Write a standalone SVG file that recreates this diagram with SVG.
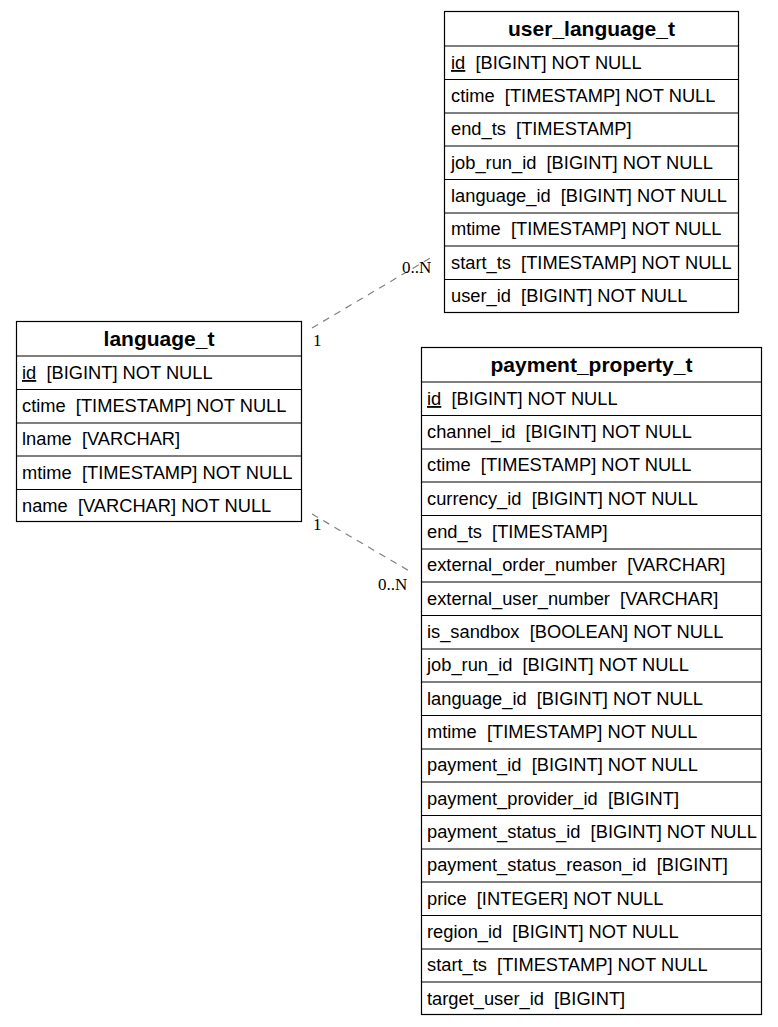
<svg xmlns="http://www.w3.org/2000/svg" width="778" height="1027" viewBox="0 0 778 1027">
<style>
.box{fill:#fff;stroke:#000;stroke-width:1.2}
.sep{stroke:#000;stroke-width:1.2}
.h{font-family:"Liberation Sans",Arial,sans-serif;font-size:21px;font-weight:bold;text-anchor:middle;fill:#000}
.r{font-family:"Liberation Sans",Arial,sans-serif;font-size:18.3px;fill:#000;white-space:pre}
.u{text-decoration:underline}
.c{stroke:#808080;stroke-width:1.2;stroke-dasharray:7,6;fill:none}
.l{font-family:"Liberation Serif","Times New Roman",serif;font-size:17px;fill:#000}
</style>
<rect width="778" height="1027" fill="#fff"/>
<g id="connectors">
<path class="c" d="M312,328 L432,257"/>
<path class="c" d="M312,514 L411,572"/>
<text class="l" x="313" y="346">1</text>
<text class="l" x="402" y="273">0..N</text>
<text class="l" x="313" y="530">1</text>
<text class="l" x="378" y="590">0..N</text>
</g>
<g id="user_language_t">
<rect class="box" x="444.5" y="11.5" width="294" height="301"/>
<line class="sep" x1="444.5" y1="46" x2="738.5" y2="46"/>
<line class="sep" x1="444.5" y1="79.5" x2="738.5" y2="79.5"/>
<line class="sep" x1="444.5" y1="113" x2="738.5" y2="113"/>
<line class="sep" x1="444.5" y1="146" x2="738.5" y2="146"/>
<line class="sep" x1="444.5" y1="179.5" x2="738.5" y2="179.5"/>
<line class="sep" x1="444.5" y1="213" x2="738.5" y2="213"/>
<line class="sep" x1="444.5" y1="246" x2="738.5" y2="246"/>
<line class="sep" x1="444.5" y1="279.5" x2="738.5" y2="279.5"/>
<text class="h" x="591.5" y="36">user_language_t</text>
<text class="r" x="451" y="69" xml:space="preserve"><tspan class="u">id</tspan>  [BIGINT] NOT NULL</text>
<text class="r" x="451" y="102" xml:space="preserve">ctime  [TIMESTAMP] NOT NULL</text>
<text class="r" x="451" y="135" xml:space="preserve">end_ts  [TIMESTAMP]</text>
<text class="r" x="451" y="169" xml:space="preserve">job_run_id  [BIGINT] NOT NULL</text>
<text class="r" x="451" y="202" xml:space="preserve">language_id  [BIGINT] NOT NULL</text>
<text class="r" x="451" y="235" xml:space="preserve">mtime  [TIMESTAMP] NOT NULL</text>
<text class="r" x="451" y="269" xml:space="preserve">start_ts  [TIMESTAMP] NOT NULL</text>
<text class="r" x="451" y="302" xml:space="preserve">user_id  [BIGINT] NOT NULL</text>
</g>
<g id="language_t">
<rect class="box" x="16.5" y="321.5" width="285" height="200"/>
<line class="sep" x1="16.5" y1="356" x2="301.5" y2="356"/>
<line class="sep" x1="16.5" y1="389.5" x2="301.5" y2="389.5"/>
<line class="sep" x1="16.5" y1="423" x2="301.5" y2="423"/>
<line class="sep" x1="16.5" y1="456" x2="301.5" y2="456"/>
<line class="sep" x1="16.5" y1="489.5" x2="301.5" y2="489.5"/>
<text class="h" x="159" y="346">language_t</text>
<text class="r" x="22" y="379" xml:space="preserve"><tspan class="u">id</tspan>  [BIGINT] NOT NULL</text>
<text class="r" x="22" y="412" xml:space="preserve">ctime  [TIMESTAMP] NOT NULL</text>
<text class="r" x="22" y="445" xml:space="preserve">lname  [VARCHAR]</text>
<text class="r" x="22" y="479" xml:space="preserve">mtime  [TIMESTAMP] NOT NULL</text>
<text class="r" x="22" y="512" xml:space="preserve">name  [VARCHAR] NOT NULL</text>
</g>
<g id="payment_property_t">
<rect class="box" x="421.5" y="347.5" width="340" height="667"/>
<g class="sep">
<line x1="421.5" y1="382" x2="761.5" y2="382"/>
<line x1="421.5" y1="415.5" x2="761.5" y2="415.5"/>
<line x1="421.5" y1="449" x2="761.5" y2="449"/>
<line x1="421.5" y1="482" x2="761.5" y2="482"/>
<line x1="421.5" y1="515.5" x2="761.5" y2="515.5"/>
<line x1="421.5" y1="549" x2="761.5" y2="549"/>
<line x1="421.5" y1="582" x2="761.5" y2="582"/>
<line x1="421.5" y1="615.5" x2="761.5" y2="615.5"/>
<line x1="421.5" y1="649" x2="761.5" y2="649"/>
<line x1="421.5" y1="682" x2="761.5" y2="682"/>
<line x1="421.5" y1="715.5" x2="761.5" y2="715.5"/>
<line x1="421.5" y1="749" x2="761.5" y2="749"/>
<line x1="421.5" y1="782" x2="761.5" y2="782"/>
<line x1="421.5" y1="815.5" x2="761.5" y2="815.5"/>
<line x1="421.5" y1="849" x2="761.5" y2="849"/>
<line x1="421.5" y1="882" x2="761.5" y2="882"/>
<line x1="421.5" y1="915.5" x2="761.5" y2="915.5"/>
<line x1="421.5" y1="949" x2="761.5" y2="949"/>
<line x1="421.5" y1="982" x2="761.5" y2="982"/>
</g>
<text class="h" x="591.5" y="372">payment_property_t</text>
<text class="r" x="427" y="405" xml:space="preserve"><tspan class="u">id</tspan>  [BIGINT] NOT NULL</text>
<text class="r" x="427" y="438" xml:space="preserve">channel_id  [BIGINT] NOT NULL</text>
<text class="r" x="427" y="471" xml:space="preserve">ctime  [TIMESTAMP] NOT NULL</text>
<text class="r" x="427" y="505" xml:space="preserve">currency_id  [BIGINT] NOT NULL</text>
<text class="r" x="427" y="538" xml:space="preserve">end_ts  [TIMESTAMP]</text>
<text class="r" x="427" y="571" xml:space="preserve">external_order_number  [VARCHAR]</text>
<text class="r" x="427" y="605" xml:space="preserve">external_user_number  [VARCHAR]</text>
<text class="r" x="427" y="638" xml:space="preserve">is_sandbox  [BOOLEAN] NOT NULL</text>
<text class="r" x="427" y="671" xml:space="preserve">job_run_id  [BIGINT] NOT NULL</text>
<text class="r" x="427" y="705" xml:space="preserve">language_id  [BIGINT] NOT NULL</text>
<text class="r" x="427" y="738" xml:space="preserve">mtime  [TIMESTAMP] NOT NULL</text>
<text class="r" x="427" y="771" xml:space="preserve">payment_id  [BIGINT] NOT NULL</text>
<text class="r" x="427" y="805" xml:space="preserve">payment_provider_id  [BIGINT]</text>
<text class="r" x="427" y="838" xml:space="preserve">payment_status_id  [BIGINT] NOT NULL</text>
<text class="r" x="427" y="871" xml:space="preserve">payment_status_reason_id  [BIGINT]</text>
<text class="r" x="427" y="905" xml:space="preserve">price  [INTEGER] NOT NULL</text>
<text class="r" x="427" y="938" xml:space="preserve">region_id  [BIGINT] NOT NULL</text>
<text class="r" x="427" y="971" xml:space="preserve">start_ts  [TIMESTAMP] NOT NULL</text>
<text class="r" x="427" y="1005" xml:space="preserve">target_user_id  [BIGINT]</text>
</g>
</svg>
